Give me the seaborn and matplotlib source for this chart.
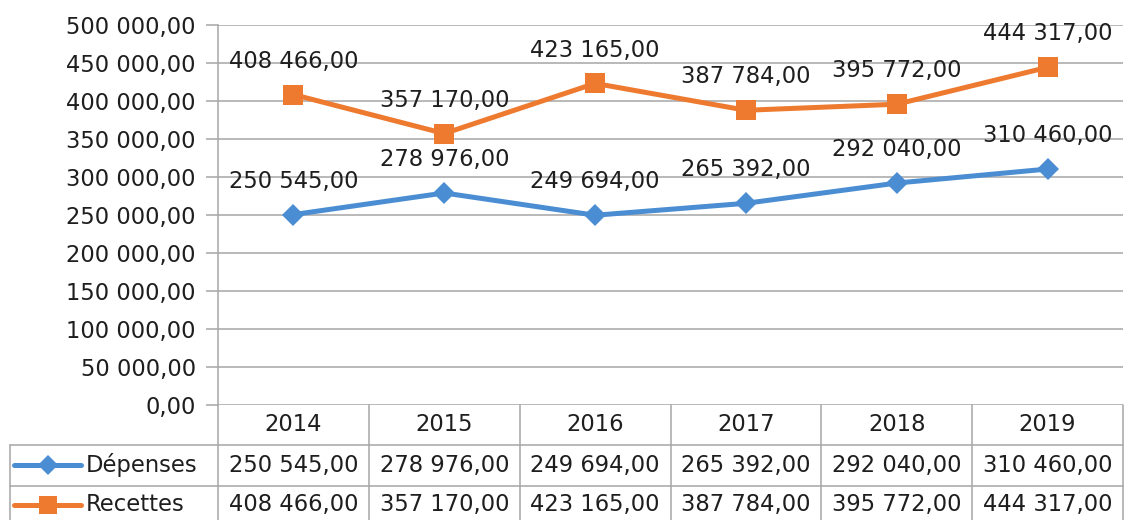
import pandas as pd
import matplotlib.pyplot as plt
import matplotlib.transforms as mtransforms
from matplotlib.lines import Line2D
import seaborn as sns

years = [2014, 2015, 2016, 2017, 2018, 2019]
depenses = [250545.00, 278976.00, 249694.00, 265392.00, 292040.00, 310460.00]
recettes = [408466.00, 357170.00, 423165.00, 387784.00, 395772.00, 444317.00]
series_names = ['Dépenses', 'Recettes']
colors = {'Dépenses': '#4A8DD2', 'Recettes': '#EE7A30'}
markers = {'Dépenses': 'D', 'Recettes': 's'}
y_ticks = [0, 50000, 100000, 150000, 200000, 250000, 300000, 350000, 400000, 450000, 500000]


# French number format: 250 545,00
def fr(v):
    return f"{v:,.2f}".replace(',', ' ').replace('.', ',')


df = pd.DataFrame({
    'Année': years * 2,
    'Montant': depenses + recettes,
    'Série': ['Dépenses'] * len(years) + ['Recettes'] * len(years),
})

sns.set_style('white')
plt.rcParams['font.family'] = ['DejaVu Sans']
FS = 16.3
grid_col = '#A6A6A6'
text_col = '#1E1E1E'
msize = {'Dépenses': 11, 'Recettes': 14}

fig = plt.figure(figsize=(11.28, 5.2), dpi=100)
W, H = 1128, 520
ax = fig.add_axes([218 / W, (H - 405) / H, (1123 - 218) / W, (405 - 25) / H])

sns.lineplot(data=df, x='Année', y='Montant', hue='Série', style='Série',
             palette=colors, markers=markers, dashes=False, linewidth=3.6,
             markersize=11, markeredgewidth=0, legend=False, ax=ax)
for line in ax.get_lines():
    if line.get_marker() == 's':
        line.set_markersize(msize['Recettes'])

ax.set_xlim(years[0] - 0.5, years[-1] + 0.5)
ax.set_ylim(0, 500000)
ax.set_yticks(y_ticks)
ax.set_yticklabels([fr(v) for v in y_ticks], fontsize=FS, color=text_col)
ax.set_xticks([])
ax.set_xlabel('')
ax.set_ylabel('')
ax.yaxis.grid(True, color=grid_col, linewidth=1.1)
ax.set_axisbelow(True)
ax.tick_params(axis='y', left=True, length=9, width=1.1, color=grid_col, pad=7)
for s in ['top', 'right', 'bottom']:
    ax.spines[s].set_visible(False)
ax.spines['left'].set_color(grid_col)
ax.spines['left'].set_linewidth(1.1)

# data labels above the points
for name, vals in zip(series_names, [depenses, recettes]):
    for x, v in zip(years, vals):
        ax.annotate(fr(v), (x, v), xytext=(0, 24), textcoords='offset points',
                    ha='center', va='center', fontsize=FS, color=text_col)

# data table below the chart (x in data coords, y in axes fraction)
tr = mtransforms.blended_transform_factory(ax.transData, ax.transAxes)
rows_y = [0, -0.105, -0.213, -0.33]
left_x = years[0] - 0.5 - 208 / 150.8
right_x = years[-1] + 0.5

kw = dict(transform=tr, color=grid_col, linewidth=1.1, clip_on=False)
ax.add_line(Line2D([left_x, right_x], [rows_y[1]] * 2, **kw))
ax.add_line(Line2D([left_x, right_x], [rows_y[2]] * 2, **kw))
for i in range(len(years) + 1):
    xv = years[0] - 0.5 + i
    ax.add_line(Line2D([xv, xv], [rows_y[0], rows_y[3]], **kw))
ax.add_line(Line2D([left_x, left_x], [rows_y[1], rows_y[3]], **kw))

# header row
for x in years:
    ax.text(x, (rows_y[0] + rows_y[1]) / 2, str(x), transform=tr, ha='center',
            va='center', fontsize=FS, color=text_col, clip_on=False)

# series rows
row_centres = [(rows_y[1] + rows_y[2]) / 2, rows_y[2] - 0.05]
for yc, name, vals in zip(row_centres, series_names, [depenses, recettes]):
    for x, v in zip(years, vals):
        ax.text(x, yc, fr(v), transform=tr, ha='center', va='center',
                fontsize=FS, color=text_col, clip_on=False)
    kx0 = left_x + 0.03
    kx1 = left_x + 0.47
    ax.add_line(Line2D([kx0, kx1], [yc, yc], transform=tr, color=colors[name],
                       linewidth=3.6, clip_on=False))
    ax.add_line(Line2D([(kx0 + kx1) / 2], [yc], transform=tr, color=colors[name],
                       marker=markers[name], markersize=msize[name] - 1,
                       markeredgewidth=0, linestyle='none', clip_on=False))
    ax.text(kx1 + 0.03, yc, name, transform=tr, ha='left', va='center',
            fontsize=FS, color=text_col, clip_on=False)

fig.savefig('out.png', dpi=100)
